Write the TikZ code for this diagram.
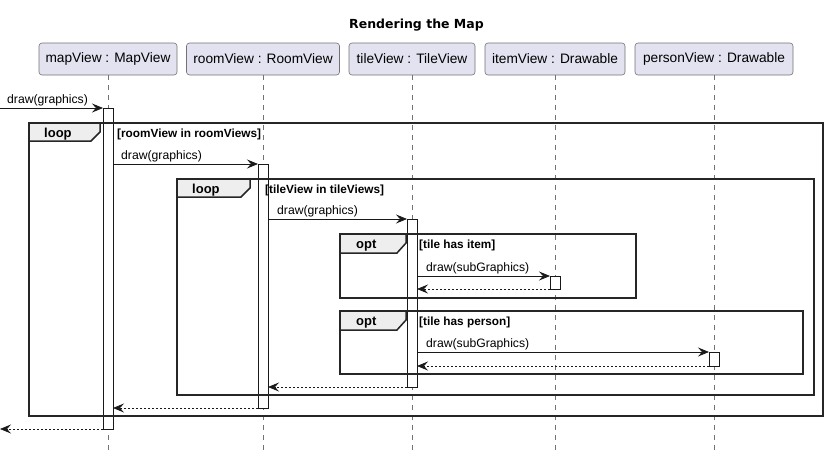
\documentclass[tikz,border=0pt]{standalone}
\usepackage{fontspec}
\setmainfont{Liberation Sans}
\newfontfamily\titlefont{DejaVu Sans}
\usetikzlibrary{arrows.meta}
\definecolor{partfill}{RGB}{226,226,240}
\definecolor{tabfill}{RGB}{238,238,238}
\begin{document}
\begin{tikzpicture}[x=1pt,y=-1pt,
  part/.style={draw=black!55, fill=partfill, rounded corners=3pt, line width=0.6pt, minimum height=32pt, inner sep=0pt, font=\fontsize{13.7}{16}\selectfont},
  life/.style={draw=black!55, line width=0.6pt, dash pattern=on 5pt off 5pt},
  act/.style={draw=black!90, fill=white, line width=0.8pt, minimum width=10pt, inner sep=0pt, outer sep=0pt, anchor=north},
  frame/.style={draw=black!85, line width=1.5pt},
  tab/.style={draw=black!85, line width=1.5pt, fill=tabfill},
  tablabel/.style={font=\bfseries\fontsize{13}{15}\selectfont, anchor=base west, inner sep=0pt},
  cond/.style={font=\bfseries\fontsize{11.8}{14}\selectfont, anchor=base west, inner sep=0pt},
  msg/.style={draw=black!90, line width=0.8pt, -{Stealth[length=11pt,width=9pt,inset=4pt]}},
  ret/.style={msg, dash pattern=on 2pt off 2pt},
  mlabel/.style={font=\fontsize{12.2}{14}\selectfont, anchor=base west, inner sep=0pt}
]
\useasboundingbox (0,0) rectangle (828,453);

% title
\node[font=\titlefont\bfseries\fontsize{12.5}{15}\selectfont, anchor=base, inner sep=0pt] (title) at (416.5,28.5) {Rendering the Map};

% participants
\node[part, minimum width=138pt] (mapV) at (108,59) {mapView : MapView};
\node[part, minimum width=153pt] (roomV) at (263,59) {roomView : RoomView};
\node[part, minimum width=126pt] (tileV) at (412,59) {tileView : TileView};
\node[part, minimum width=140pt] (itemV) at (555,59) {itemView : Drawable};
\node[part, minimum width=158pt] (personV) at (714,59) {personView : Drawable};

% lifelines
\coordinate (mapEnd) at (108,450);
\coordinate (roomEnd) at (263,450);
\coordinate (tileEnd) at (412,450);
\coordinate (itemEnd) at (555,450);
\coordinate (personEnd) at (714,450);
\draw[life] (mapV) -- (mapEnd);
\draw[life] (roomV) -- (roomEnd);
\draw[life] (tileV) -- (tileEnd);
\draw[life] (itemV) -- (itemEnd);
\draw[life] (personV) -- (personEnd);

% activations
\node[act, minimum height=321pt] (aMap) at (108,108) {};
\node[act, minimum height=244pt] (aRoom) at (263,164) {};
\node[act, minimum height=168pt] (aTile) at (412,219) {};
\node[act, minimum height=13pt] (aItem) at (555,276) {};
\node[act, minimum height=14pt] (aPerson) at (714,352) {};

% frames
\draw[frame] (29,123) rectangle (823,416);
\draw[tab] (29,123) -- (100,123) -- (100,132) -- (91,141) -- (29,141) -- cycle;
\node[tablabel] (loop1) at (44,137) {loop};
\node[cond] (cond1) at (117,137) {[roomView in roomViews]};

\draw[frame] (177,179) rectangle (814,395);
\draw[tab] (177,179) -- (250,179) -- (250,188) -- (241,197) -- (177,197) -- cycle;
\node[tablabel] (loop2) at (192,193) {loop};
\node[cond] (cond2) at (265,193) {[tileView in tileViews]};

\draw[frame] (340,234) rectangle (636,298);
\draw[tab] (340,234) -- (406,234) -- (406,243) -- (397,253) -- (340,253) -- cycle;
\node[tablabel] (opt1) at (356,248.5) {opt};
\node[cond] (cond3) at (419,248.5) {[tile has item]};

\draw[frame] (340,311) rectangle (803,374);
\draw[tab] (340,311) -- (406,311) -- (406,320) -- (397,330) -- (340,330) -- cycle;
\node[tablabel] (opt2) at (356,325.5) {opt};
\node[cond] (cond4) at (419,325.5) {[tile has person]};

% messages
\coordinate (inStart) at (0,108);
\draw[msg] (inStart) -- (aMap.north west);
\node[mlabel] (m1) at (7,103.5) {draw(graphics)};

\draw[msg] (aMap.east |- aRoom.north) -- (aRoom.north west);
\node[mlabel] (m2) at (121,159.5) {draw(graphics)};

\draw[msg] (aRoom.east |- aTile.north) -- (aTile.north west);
\node[mlabel] (m3) at (277,214.5) {draw(graphics)};

\draw[msg] (aTile.east |- aItem.north) -- (aItem.north west);
\node[mlabel] (m4) at (426,271.5) {draw(subGraphics)};
\draw[ret] (aItem.south west) -- (aTile.east |- aItem.south);

\draw[msg] (aTile.east |- aPerson.north) -- (aPerson.north west);
\node[mlabel] (m6) at (426,347.5) {draw(subGraphics)};
\draw[ret] (aPerson.south west) -- (aTile.east |- aPerson.south);

\draw[ret] (aTile.south west) -- (aRoom.east |- aTile.south);
\draw[ret] (aRoom.south west) -- (aMap.east |- aRoom.south);
\coordinate (outEnd) at (0,429);
\draw[ret] (aMap.south west) -- (outEnd);
\end{tikzpicture}
\end{document}
